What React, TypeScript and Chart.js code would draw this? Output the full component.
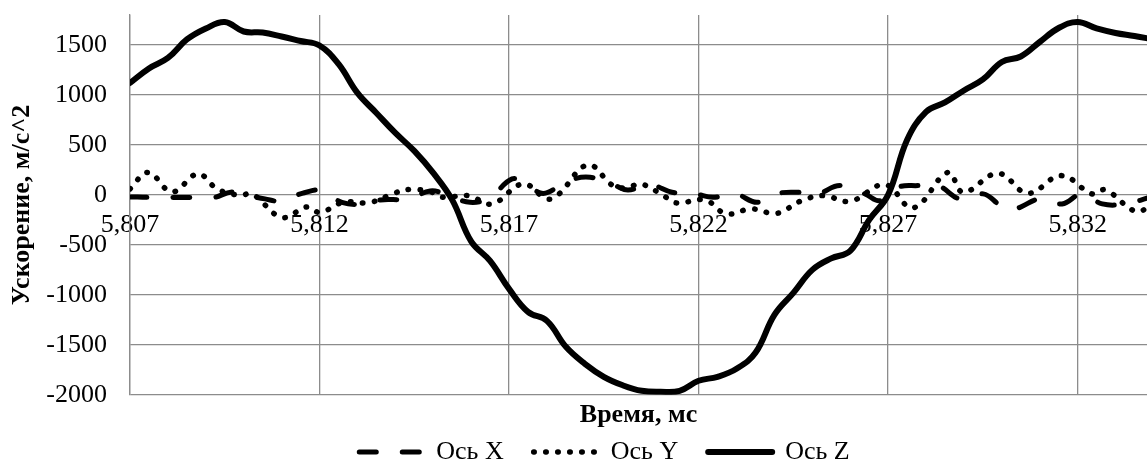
import React, { useEffect, useRef } from 'react';
import { Chart, registerables } from 'chart.js';

Chart.register(...registerables);

const FONT = "'Liberation Serif', 'Times New Roman', serif";
const GRID = '#8c8c8c';
const INK = '#000000';

// ---- data (time in ms, acceleration in m/s^2) ----
const timeX = [
  5.807, 5.80753, 5.80864, 5.80916, 5.80972, 5.81017, 5.81056, 5.81096, 5.81154, 5.81207,
  5.81259, 5.8132, 5.8136, 5.81434, 5.81492, 5.81531, 5.81597, 5.8165, 5.81708, 5.81742,
  5.81782, 5.81803, 5.81856, 5.81914, 5.8198, 5.82014, 5.82072, 5.8213, 5.82191, 5.82238,
  5.82296, 5.82354, 5.82402, 5.8246, 5.82513, 5.82573, 5.82639, 5.82679, 5.82726, 5.82779,
  5.82832, 5.8289, 5.82951, 5.82996, 5.83022, 5.83048, 5.83101, 5.83159, 5.83212, 5.83265,
  5.83325, 5.83391,
];
const accelX = [
  -20, -25, -25, -30, 30, -10, -40, -60, 15, 45,
  -75, -90, -50, -40, 40, 10, -74, -24, 160, 110,
  20, 26, 140, 176, 93, 50, 100, 26, 10, -24,
  10, -74, 10, 26, 10, 93, 10, -57, 76, 93,
  93, -40, 10, -107, -157, -124, -40, -90, 10, -90,
  -90, -24,
];

const timeY = [
  5.807, 5.80748, 5.80811, 5.80879, 5.8093, 5.8099, 5.81022, 5.81101, 5.81167, 5.81201,
  5.81262, 5.81333, 5.81399, 5.81439, 5.81494, 5.81526, 5.81592, 5.81655, 5.81737, 5.818,
  5.81829, 5.81908, 5.81974, 5.82011, 5.82046, 5.82101, 5.82141, 5.82217, 5.82273, 5.82339,
  5.82407, 5.82468, 5.82529, 5.826, 5.82692, 5.82766, 5.82858, 5.82898, 5.8299, 5.83069,
  5.83157, 5.83238, 5.83273, 5.83352, 5.83391,
];
const accelY = [
  60, 225, 30, 210, 60, -5, 10, -225, -120, -175,
  -75, -75, 20, 55, 30, -24, -7, -90, 110, -40,
  0, 300, 93, 70, 110, 10, -80, -50, -190, -140,
  -184, -64, -7, -64, 103, -130, 226, 26, 216, 16,
  193, 10, 50, -164, -120,
];

const timeZ = [
  5.807, 5.8075, 5.808, 5.8085, 5.809, 5.8095, 5.81, 5.8105, 5.811, 5.8115,
  5.812, 5.8125, 5.813, 5.8135, 5.814, 5.8145, 5.815, 5.8155, 5.816, 5.8165,
  5.817, 5.8175, 5.818, 5.8185, 5.819, 5.8195, 5.82, 5.8205, 5.821, 5.8215,
  5.822, 5.8225, 5.823, 5.8235, 5.824, 5.8245, 5.825, 5.8255, 5.826, 5.8265,
  5.827, 5.8275, 5.828, 5.8285, 5.829, 5.8295, 5.83, 5.8305, 5.831, 5.8315,
  5.832, 5.8325, 5.833, 5.8335, 5.834,
];
const accelZ = [
  1120, 1265, 1370, 1555, 1665, 1730, 1635, 1625, 1585, 1540,
  1495, 1310, 1020, 820, 620, 440, 220, -50, -465, -660,
  -940, -1170, -1260, -1520, -1690, -1820, -1905, -1960, -1970, -1960,
  -1860, -1820, -1740, -1580, -1200, -980, -750, -635, -560, -250,
  0, 550, 830, 925, 1045, 1155, 1330, 1385, 1530, 1670,
  1730, 1665, 1620, 1590, 1555,
];

const seriesNames = ['Ось X', 'Ось Y', 'Ось Z'];
const xTickValues = [5.807, 5.812, 5.817, 5.822, 5.827, 5.832];
const xTickLabels = ['5,807', '5,812', '5,817', '5,822', '5,827', '5,832'];
const yTickValues = [-2000, -1500, -1000, -500, 0, 500, 1000, 1500];
const xTitle = 'Время, мс';
const yTitle = 'Ускорение, м/с^2';

const X_MIN = 5.807;
const X_MAX = 5.83383;
const Y_MIN = -2000;
const Y_MAX = 1800;

const TICK_FONT = { family: FONT, size: 26, lineHeight: 1.15 };
const LEGEND_PAD = 30;
const LEGEND_FONT = 26;
const LEGEND_CENTER_Y = 452;
const LEGEND_DX = 31;

const pts = (t: number[], v: number[]) => t.map((x, i) => ({ x, y: v[i] }));

const legendPlacer = {
  id: 'legendPlacer',
  afterLayout(chart: any) {
    const lg = chart.legend;
    if (!lg) return;
    lg.left += LEGEND_DX;
    lg.right += LEGEND_DX;
    const dy = LEGEND_CENTER_Y - (lg.top + LEGEND_PAD + LEGEND_FONT / 2);
    lg.top += dy;
    lg.bottom += dy;
  },
};

export default function App() {
  const ref = useRef<HTMLCanvasElement>(null);

  useEffect(() => {
    document.body.style.margin = '0';
    Chart.defaults.font.family = FONT;
    const common = {
      borderColor: INK,
      backgroundColor: INK,
      borderCapStyle: 'round' as const,
      borderJoinStyle: 'round' as const,
      pointRadius: 0,
      pointHoverRadius: 0,
      tension: 0.4,
      fill: false,
    };
    const defaultLabels = (Chart.defaults.plugins.legend.labels as any).generateLabels;
    const chart = new Chart(ref.current as HTMLCanvasElement, {
      type: 'line',
      data: {
        datasets: [
          { ...common, label: seriesNames[0], data: pts(timeX, accelX), borderWidth: 5, borderDash: [17, 26], order: 1 },
          { ...common, label: seriesNames[1], data: pts(timeY, accelY), borderWidth: 5.5, borderDash: [0.5, 11.5], order: 2 },
          { ...common, label: seriesNames[2], data: pts(timeZ, accelZ), borderWidth: 6, order: 0 },
        ],
      },
      options: {
        animation: false,
        responsive: true,
        maintainAspectRatio: false,
        devicePixelRatio: 1,
        layout: { padding: { top: 15, left: 0, right: 0, bottom: -33 } },
        plugins: {
          tooltip: { enabled: false },
          legend: {
            position: 'bottom',
            labels: {
              usePointStyle: true,
              pointStyle: 'line',
              pointStyleWidth: 64,
              padding: LEGEND_PAD,
              color: INK,
              font: { family: FONT, size: LEGEND_FONT },
              generateLabels: (c: any) =>
                defaultLabels(c).map((it: any) => {
                  const ds = c.data.datasets[it.datasetIndex];
                  return {
                    ...it,
                    pointStyle: 'line',
                    strokeStyle: INK,
                    lineWidth: ds.borderWidth,
                    lineDash: ds.borderDash || [],
                    lineCap: 'round',
                  };
                }),
              sort: (a: any, b: any) => a.datasetIndex - b.datasetIndex,
            },
          },
        },
        scales: {
          x: {
            type: 'linear',
            position: { y: 0 } as any,
            min: X_MIN,
            max: X_MAX,
            afterBuildTicks: (s: any) => {
              s.ticks = xTickValues.map((value) => ({ value }));
            },
            ticks: {
              autoSkip: false,
              maxRotation: 0,
              padding: 15,
              color: INK,
              font: TICK_FONT,
              callback: (_v: any, i: number) => xTickLabels[i],
            },
            grid: { color: GRID, lineWidth: 1.3, drawTicks: false },
            border: { display: false },
          },
          xTitle: {
            type: 'linear',
            position: 'bottom',
            min: 0,
            max: 1,
            grid: { display: false, drawTicks: false },
            border: { display: false },
            ticks: { display: false },
            title: {
              display: true,
              text: xTitle,
              color: INK,
              font: { family: FONT, size: 26, weight: 'bold' },
              padding: { top: 5, bottom: 0 },
            },
          },
          y: {
            type: 'linear',
            position: 'left',
            min: Y_MIN,
            max: Y_MAX,
            afterBuildTicks: (s: any) => {
              s.ticks = yTickValues.map((value) => ({ value }));
            },
            afterFit: (s: any) => {
              s.width = 130;
            },
            ticks: {
              padding: 0,
              color: INK,
              font: TICK_FONT,
              callback: (v: any) => String(v),
            },
            grid: {
              color: GRID,
              lineWidth: 1.3,
              drawTicks: true,
              tickLength: 23,
              tickColor: 'rgba(0,0,0,0)',
            },
            border: { color: GRID, width: 1.3 },
            title: {
              display: true,
              text: yTitle,
              color: INK,
              font: { family: FONT, size: 26, weight: 'bold' },
              padding: { top: 7, bottom: 0 },
            },
          },
        },
      } as any,
      plugins: [legendPlacer],
    });
    return () => chart.destroy();
  }, []);

  return (
    <div style={{ width: 1147, height: 464, position: 'relative' }}>
      <canvas ref={ref} />
    </div>
  );
}
